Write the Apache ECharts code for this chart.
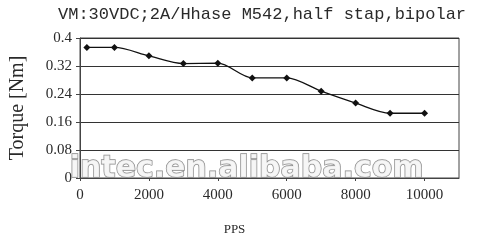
<!DOCTYPE html>
<html>
<head>
<meta charset="utf-8">
<script src="https://cdn.jsdelivr.net/npm/echarts@6/dist/echarts.min.js"></script>
<style>html,body{margin:0;padding:0;background:#fff}#c{width:481px;height:241px}</style>
</head>
<body>
<div id="c"></div>
<script>
const titleText = 'VM:30VDC;2A/Hhase M542,half stap,bipolar';
const xName = 'PPS';
const yName = 'Torque [Nm]';
const watermark = 'intec.en.alibaba.com';
const pps = [200, 1000, 2000, 3000, 4000, 5000, 6000, 7000, 8000, 9000, 10000];
const torque = [0.373, 0.373, 0.349, 0.327, 0.328, 0.286, 0.286, 0.248, 0.214, 0.185, 0.185];
const xTicks = [0, 2000, 4000, 6000, 8000, 10000];
const yTicks = [0, 0.08, 0.16, 0.24, 0.32, 0.4];

const chart = echarts.init(document.getElementById('c'), null, {renderer: 'canvas'});
const serif = 'Liberation Serif';
chart.setOption({
  animation: false,
  backgroundColor: '#fff',
  title: {
    text: titleText, left: 53, top: 1,
    textStyle: {fontFamily: 'Liberation Mono', fontSize: 17, fontWeight: 'normal', color: '#2a2a2a'}
  },
  grid: {left: 77, right: 22, top: 38, bottom: 60, show: true, borderColor: '#444', borderWidth: 1, backgroundColor: 'transparent'},
  xAxis: {
    type: 'value', min: 0, max: 11000,
    name: xName, nameLocation: 'middle', nameGap: 45,
    nameTextStyle: {fontFamily: serif, fontSize: 13, color: '#2a2a2a', padding: [0, 70, 0, 0]},
    axisLine: {show: true, lineStyle: {color: '#444', width: 1}},
    axisTick: {show: true, length: 3, inside: false, customValues: xTicks, lineStyle: {color: '#444'}},
    axisLabel: {customValues: xTicks, fontFamily: serif, fontSize: 15, color: '#2a2a2a', margin: 10,
      formatter: v => String(v)},
    splitLine: {show: false}
  },
  yAxis: {
    type: 'value', min: 0, max: 0.4, interval: 0.08,
    name: yName, nameLocation: 'middle', nameGap: 52, nameRotate: 90,
    nameTextStyle: {fontFamily: serif, fontSize: 20, color: '#2a2a2a'},
    axisLine: {show: true, lineStyle: {color: '#444', width: 1}},
    axisTick: {show: true, length: 4, customValues: yTicks, lineStyle: {color: '#444'}},
    axisLabel: {customValues: yTicks, fontFamily: serif, fontSize: 15, color: '#2a2a2a', margin: 8,
      formatter: v => String(+v.toFixed(2))},
    splitLine: {show: true, lineStyle: {color: '#333', width: 1}}
  },
  graphic: [{
    type: 'text', left: 69, top: 154, z: 10, silent: true,
    style: {text: watermark, font: 'bold 30px "DejaVu Sans"', fill: 'rgba(245,245,245,0.9)', stroke: '#8a8a8a', lineWidth: 1.4}
  }],
  series: [{
    type: 'line', data: pps.map((x, i) => [x, torque[i]]),
    smooth: 0.3, symbol: 'diamond', symbolSize: 7,
    lineStyle: {color: '#111', width: 1.3},
    itemStyle: {color: '#111'}, z: 5
  }]
});
</script>
</body>
</html>
